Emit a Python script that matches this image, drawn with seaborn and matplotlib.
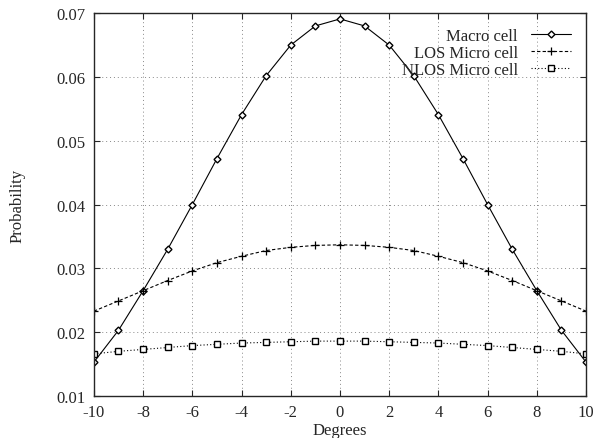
import numpy as np
import pandas as pd
import matplotlib
matplotlib.use("Agg")
import matplotlib.pyplot as plt
import seaborn as sns

degrees = list(range(-10, 11))
macro = [0.0153, 0.0203, 0.0265, 0.0330, 0.0400, 0.0472, 0.0541, 0.0602, 0.0650, 0.0680, 0.0691,
         0.0680, 0.0650, 0.0602, 0.0541, 0.0472, 0.0400, 0.0330, 0.0265, 0.0203, 0.0153]
los_micro = [0.0233, 0.0249, 0.0265, 0.0281, 0.0296, 0.0309, 0.0319, 0.0328, 0.0333, 0.0336, 0.0337,
             0.0336, 0.0333, 0.0328, 0.0319, 0.0309, 0.0296, 0.0281, 0.0265, 0.0249, 0.0233]
nlos_micro = [0.0166, 0.0170, 0.0173, 0.0176, 0.0179, 0.0181, 0.0183, 0.0184, 0.0185, 0.0186, 0.0186,
              0.0186, 0.0185, 0.0184, 0.0183, 0.0181, 0.0179, 0.0176, 0.0173, 0.0170, 0.0166]
series_names = ["Macro cell", "LOS Micro cell", "NLOS Micro cell"]

sns.set_style("ticks")
plt.rcParams["font.family"] = ["Liberation Serif", "DejaVu Serif"]
plt.rcParams["axes.unicode_minus"] = False

df = pd.DataFrame({"Degrees": degrees * 3,
                   "Probability": macro + los_micro + nlos_micro,
                   "series": [s for s in series_names for _ in degrees]})

fig = plt.figure(figsize=(5.98, 4.39), dpi=100)
ax = fig.add_axes([0.157, 0.0957, 0.823, 0.872])

markers = {"Macro cell": "D", "LOS Micro cell": "P", "NLOS Micro cell": "s"}
dashes = {"Macro cell": "", "LOS Micro cell": (3, 2), "NLOS Micro cell": (1, 2)}
sns.lineplot(data=df, x="Degrees", y="Probability", style="series", style_order=series_names,
             markers=markers, dashes=dashes, color="black", linewidth=0.8, ax=ax)

# open markers like the original
sizes = {"Macro cell": 3.5, "LOS Micro cell": 5.5, "NLOS Micro cell": 4.5}
for line, name in zip(ax.lines[:3], series_names):
    line.set_markersize(sizes[name])
    line.set_markeredgecolor("black")
    if name == "LOS Micro cell":
        line.set_marker("+")
        line.set_markeredgewidth(0.9)
    else:
        line.set_markerfacecolor("white")
        line.set_markeredgewidth(1.0)

ax.set_xlim(-10, 10)
ax.set_ylim(0.01, 0.07)
ax.set_xticks(range(-10, 11, 2))
ax.set_yticks(np.arange(0.01, 0.0701, 0.01))
ax.set_yticklabels([f"{v:.2f}" for v in np.arange(0.01, 0.0701, 0.01)])
ax.grid(True, color="#888888", linestyle=(0, (1, 3)), linewidth=0.7)
ax.tick_params(direction="in", top=True, right=True, labelsize=12, length=4, pad=6)
for sp in ax.spines.values():
    sp.set_linewidth(1.0)
ax.set_xlabel("Degrees", fontsize=12, labelpad=1)
ax.set_ylabel("Probability", fontsize=12, labelpad=22)

ax.legend(ax.lines[:3], series_names, loc="upper right", frameon=False, markerfirst=False,
          fontsize=12, handlelength=2.4, borderaxespad=0.5, labelspacing=0.05)

fig.savefig("out.png", dpi=100)
